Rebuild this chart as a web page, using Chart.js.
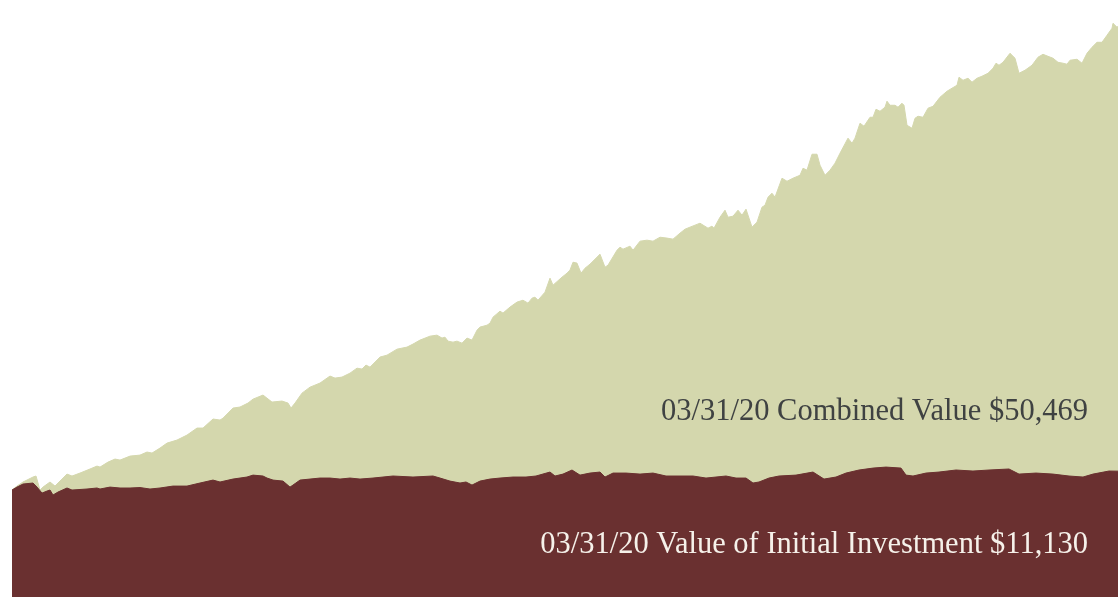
<!DOCTYPE html>
<html>
<head>
<meta charset="utf-8">
<title>Growth of an Investment</title>
<script src="https://cdn.jsdelivr.net/npm/chart.js@4"></script>
<style>
  html, body { margin: 0; padding: 0; background: #ffffff; }
  #wrap { position: relative; width: 1118px; height: 597px; }
</style>
</head>
<body>
<div id="wrap"><canvas id="chart"></canvas></div>
<script>
// Weeks since inception and value ($) with distributions reinvested
const combinedWeek = [0,5,11,21,24,28,31,38,43,46,55,60,68,78,85,88,96,103,108,118,128,135,140,148,155,165,175,185,191,201,208,211,221,228,236,241,251,260,270,276,279,283,290,298,308,318,323,330,338,345,350,354,358,368,375,385,395,401,408,418,425,430,433,436,441,445,450,455,460,465,468,475,478,481,488,491,498,505,511,516,520,523,526,533,538,541,550,555,558,561,565,569,573,578,588,593,596,605,608,611,618,621,628,635,641,648,655,661,668,673,678,688,696,700,702,708,713,716,721,726,730,734,740,745,750,753,756,760,763,770,775,781,788,791,795,800,805,808,813,818,823,828,836,840,843,848,852,858,861,864,868,873,875,878,883,886,890,892,895,900,903,906,911,916,921,928,935,940,945,947,951,956,960,965,970,976,981,984,987,991,998,1003,1007,1013,1020,1026,1031,1036,1041,1046,1051,1055,1058,1065,1070,1075,1080,1085,1090,1095,1100,1101,1105,1106];
const combinedValue = [9460,9810,10170,10610,10700,9460,9720,10170,9810,10080,10870,10700,10960,11320,11580,11490,11930,12200,12110,12460,12550,12820,12730,13170,13610,13880,14320,14940,14940,15740,15650,15820,16710,16800,17150,17500,17860,17240,17330,17150,16710,17150,18030,18560,18920,19540,19360,19450,19800,20240,20160,20510,20330,21220,21390,21920,22100,22370,22720,23070,23160,22900,22980,22630,22540,22630,22450,22900,22720,23600,23870,24040,24220,24750,25280,25110,25640,26080,26250,25990,26430,26520,26250,26960,28200,27580,28290,28640,28910,29610,29530,28640,29080,29440,30320,29170,29350,30670,30940,30760,31030,30670,31470,31560,31470,31820,31740,31650,32180,32530,32710,33060,32620,32800,32620,33590,34210,33590,33680,34210,33770,34300,32710,33150,34480,34650,35360,35710,35360,37040,36770,37040,37300,37920,37750,39160,39160,38190,37300,37750,38370,39250,40580,40130,40580,41900,41640,42430,42430,43140,42960,43320,43850,43490,43490,43320,43670,43490,41720,41460,42340,42520,42430,43230,43400,44200,44730,45000,45260,45970,45700,45880,45530,45880,46060,46320,46760,47210,47030,47290,48090,47650,46320,46590,47030,47740,48000,47820,47650,47290,47210,47120,47470,47560,47210,48090,48620,49060,49060,49680,50300,50740,50390,50469];

// Weeks since inception and value ($) of the initial investment alone
const initialWeek = [0,5,11,21,25,30,35,38,41,46,55,60,75,85,88,98,108,118,128,138,148,161,175,188,201,208,221,235,241,251,255,261,271,278,281,288,298,308,318,328,338,348,361,381,401,421,428,438,448,454,460,468,478,488,501,514,524,538,543,551,560,568,578,588,593,601,614,628,641,654,668,681,694,704,714,724,734,741,747,757,767,784,801,812,824,834,847,861,874,889,894,901,914,927,944,961,977,997,1007,1024,1041,1057,1071,1081,1097,1106];
const initialValue = [9460,9720,9990,10080,9720,9190,9370,9460,9020,9280,9640,9460,9550,9640,9550,9720,9640,9640,9680,9550,9640,9810,9810,10080,10340,10170,10430,10610,10780,10700,10520,10340,10250,9720,9900,10340,10430,10520,10520,10430,10520,10430,10520,10700,10610,10700,10520,10250,10080,10170,9900,10250,10430,10520,10610,10610,10700,11050,10700,10870,11230,10780,10960,11050,10610,10960,10960,10870,10960,10700,10700,10700,10520,10610,10700,10520,10520,10080,10170,10520,10700,10780,11050,10430,10610,10960,11230,11400,11490,11400,10780,10700,10960,11050,11230,11140,11230,11320,10870,10960,10870,10700,10610,10870,11140,11130];

const asDate = '03/31/20';
const money = v => '$' + Math.round(v).toLocaleString('en-US');

const combinedLabel = asDate + ' Combined Value ' + money(combinedValue[combinedValue.length - 1]);
const initialLabel = asDate + ' Value of Initial Investment ' + money(initialValue[initialValue.length - 1]);

const toPoints = (xs, ys) => xs.map((x, i) => ({ x: x, y: ys[i] }));

// Right-aligned value captions inside each band
const captions = {
  id: 'captions',
  afterDraw(chart) {
    const ctx = chart.ctx;
    ctx.save();
    ctx.textAlign = 'right';
    ctx.textBaseline = 'alphabetic';
    ctx.font = '30.5px "Liberation Serif", serif';
    ctx.fillStyle = '#3f4242';
    ctx.fillText(combinedLabel, 1088, 420);
    ctx.fillStyle = '#f6f1ea';
    ctx.fillText(initialLabel, 1088, 553);
    ctx.restore();
  }
};

new Chart(document.getElementById('chart'), {
  type: 'line',
  data: {
    datasets: [
      {
        label: 'Value of Initial Investment',
        data: toPoints(initialWeek, initialValue),
        backgroundColor: '#6a3030',
        borderColor: '#6a3030',
        borderWidth: 1,
        fill: 'origin',
        pointRadius: 0,
        tension: 0,
        order: 0
      },
      {
        label: 'Combined Value',
        data: toPoints(combinedWeek, combinedValue),
        backgroundColor: '#d4d7ad',
        borderColor: '#d4d7ad',
        borderWidth: 1,
        fill: 'origin',
        pointRadius: 0,
        tension: 0,
        order: 1
      }
    ]
  },
  options: {
    responsive: true,
    maintainAspectRatio: false,
    animation: false,
    layout: { padding: { left: 12, right: 0, top: 0, bottom: 0 } },
    plugins: {
      legend: { display: false },
      tooltip: { enabled: false }
    },
    scales: {
      x: { type: 'linear', min: 0, max: 1106, display: false },
      y: { type: 'linear', min: 0, max: 52800, display: false }
    }
  },
  plugins: [captions]
});
</script>
</body>
</html>
